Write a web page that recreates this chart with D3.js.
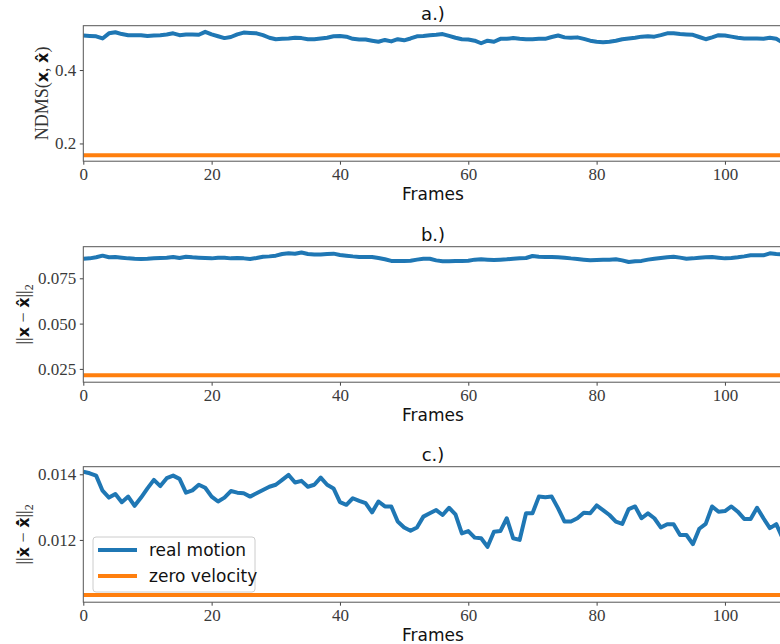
<!DOCTYPE html>
<html>
<head>
<meta charset="utf-8">
<script src="https://cdn.jsdelivr.net/npm/d3@7"></script>
<style>
body { margin: 0; background: #fff; }
.tick text { font-family: "Liberation Serif", serif; font-size: 17px; fill: #3a3a3a; }
.tick line { stroke: #444; }
.lab { font-family: "DejaVu Sans", sans-serif; font-size: 17px; fill: #111; }
</style>
</head>
<body>
<div id="chart"></div>
<script>
// data
const frames = d3.range(110)
const xTicks = [0, 20, 40, 60, 80, 100]

const ndmsReal = [0.494,0.493,0.492,0.486,0.500,0.503,0.498,0.495,0.495,0.495,
  0.493,0.494,0.495,0.497,0.500,0.495,0.497,0.497,0.496,0.504,
  0.497,0.492,0.487,0.490,0.497,0.502,0.501,0.500,0.495,0.488,
  0.484,0.485,0.486,0.488,0.487,0.484,0.484,0.486,0.488,0.492,
  0.493,0.491,0.485,0.483,0.483,0.480,0.477,0.482,0.478,0.484,
  0.481,0.486,0.492,0.493,0.495,0.496,0.498,0.493,0.488,0.484,
  0.483,0.480,0.473,0.480,0.477,0.485,0.485,0.487,0.485,0.484,
  0.484,0.485,0.485,0.490,0.494,0.489,0.488,0.489,0.485,0.480,
  0.477,0.476,0.477,0.480,0.484,0.486,0.488,0.491,0.492,0.491,
  0.495,0.500,0.500,0.498,0.497,0.496,0.490,0.484,0.489,0.495,
  0.494,0.491,0.488,0.486,0.486,0.486,0.485,0.488,0.485,0.475]
const ndmsZero = 0.168
const ndmsTicks = [0.2, 0.4]

const l2Real = [0.0858,0.0860,0.0866,0.0875,0.0866,0.0868,0.0864,0.0860,0.0858,0.0857,
  0.0858,0.0860,0.0862,0.0864,0.0868,0.0862,0.0869,0.0866,0.0864,0.0862,
  0.0860,0.0864,0.0864,0.0860,0.0862,0.0860,0.0857,0.0862,0.0869,0.0871,
  0.0875,0.0884,0.0888,0.0886,0.0892,0.0884,0.0881,0.0882,0.0884,0.0886,
  0.0879,0.0875,0.0871,0.0868,0.0868,0.0868,0.0862,0.0855,0.0846,0.0846,
  0.0846,0.0847,0.0853,0.0858,0.0858,0.0849,0.0844,0.0844,0.0846,0.0846,
  0.0847,0.0853,0.0855,0.0853,0.0851,0.0853,0.0855,0.0858,0.0860,0.0862,
  0.0873,0.0869,0.0868,0.0868,0.0866,0.0864,0.0860,0.0857,0.0853,0.0849,
  0.0851,0.0853,0.0853,0.0855,0.0849,0.0840,0.0844,0.0846,0.0853,0.0858,
  0.0862,0.0866,0.0869,0.0864,0.0858,0.0860,0.0864,0.0866,0.0868,0.0864,
  0.0860,0.0862,0.0866,0.0871,0.0877,0.0877,0.0877,0.0888,0.0884,0.0881]
const l2Zero = 0.0215
const l2Ticks = [0.025, 0.050, 0.075]

const velReal = [0.01408,0.01403,0.01396,0.01350,0.01329,0.01340,0.01315,0.01332,0.01304,0.01329,
  0.01357,0.01383,0.01364,0.01388,0.01396,0.01386,0.01344,0.01351,0.01368,0.01359,
  0.01332,0.01317,0.01329,0.01349,0.01344,0.01342,0.01332,0.01342,0.01352,0.01362,
  0.01368,0.01383,0.01398,0.01375,0.01380,0.01362,0.01368,0.01390,0.01368,0.01357,
  0.01315,0.01307,0.01327,0.01319,0.01312,0.01284,0.01317,0.01302,0.01302,0.01256,
  0.01238,0.01228,0.01238,0.01271,0.01281,0.01291,0.01276,0.01298,0.01278,0.01220,
  0.01227,0.01207,0.01205,0.01179,0.01225,0.01227,0.01266,0.01205,0.01200,0.01281,
  0.01281,0.01332,0.01330,0.01332,0.01296,0.01256,0.01256,0.01266,0.01283,0.01281,
  0.01305,0.01291,0.01276,0.01256,0.01249,0.01294,0.01302,0.01266,0.01281,0.01266,
  0.01238,0.01248,0.01248,0.01215,0.01215,0.01187,0.01234,0.01249,0.01302,0.01286,
  0.01288,0.01302,0.01286,0.01264,0.01264,0.01298,0.01266,0.01236,0.01248,0.01205]
const velZero = 0.01032
const velTicks = [0.012, 0.014]

const seriesNames = ["real motion", "zero velocity"]
const colors = ["#1f77b4", "#ff7f0e"]

// layout
const width = 780
const height = 644
const left = 83.3
const right = 782.7
const panelH = 135.5

const svg = d3.select("#chart")
  .append("svg")
    .attr("width", width)
    .attr("height", height)
    .style("display", "block")

const x = d3.scaleLinear().domain([0, 109]).range([left, right])

const panels = [
  { id: "a", title: "a.)", top: 25.7, domain: [0.1517, 0.5208], real: ndmsReal, zero: ndmsZero, ticks: ndmsTicks, fmt: d3.format(".1f") },
  { id: "b", title: "b.)", top: 246.7, domain: [0.01766, 0.09244], real: l2Real, zero: l2Zero, ticks: l2Ticks, fmt: d3.format(".3f") },
  { id: "c", title: "c.)", top: 466.7, domain: [0.010103, 0.014231], real: velReal, zero: velZero, ticks: velTicks, fmt: d3.format(".3f") }
]

panels.forEach(p => {
  const bottom = p.top + panelH
  const y = d3.scaleLinear().domain(p.domain).range([bottom, p.top])
  const g = svg.append("g").attr("id", "panel-" + p.id)

  g.append("clipPath").attr("id", "clip-" + p.id)
    .append("rect")
      .attr("x", left).attr("y", p.top)
      .attr("width", right - left).attr("height", panelH)

  const xAxisGroup = g.append("g").attr("transform", `translate(0, ${bottom})`)
  xAxisGroup.call(d3.axisBottom(x).tickValues(xTicks).tickSize(3.5).tickPadding(3.5).tickFormat(d3.format("d")))
  xAxisGroup.select(".domain").remove()

  const yAxisGroup = g.append("g").attr("transform", `translate(${left}, 0)`)
  yAxisGroup.call(d3.axisLeft(y).tickValues(p.ticks).tickSize(3.5).tickPadding(3.5).tickFormat(p.fmt))
  yAxisGroup.select(".domain").remove()

  const line = d3.line()
    .x((d, i) => x(frames[i]))
    .y(d => y(d))

  const lines = g.append("g").attr("clip-path", `url(#clip-${p.id})`)
  lines.append("path")
    .datum(p.real)
    .attr("fill", "none")
    .attr("stroke", colors[0])
    .attr("stroke-width", 4)
    .attr("stroke-linejoin", "round")
    .attr("d", line)
  lines.append("path")
    .datum(frames.map(() => p.zero))
    .attr("fill", "none")
    .attr("stroke", colors[1])
    .attr("stroke-width", 4)
    .attr("d", line)

  // spines
  g.append("rect")
    .attr("x", left).attr("y", p.top)
    .attr("width", right - left).attr("height", panelH)
    .attr("fill", "none")
    .attr("stroke", "#555")
    .attr("stroke-width", 1)

  g.append("text")
    .attr("class", "lab")
    .attr("x", (left + right) / 2)
    .attr("y", p.top - 5.5)
    .attr("text-anchor", "middle")
    .style("font-size", "18px")
    .text(p.title)

  g.append("text")
    .attr("class", "lab")
    .attr("x", (left + right) / 2)
    .attr("y", bottom + 38.5)
    .attr("text-anchor", "middle")
    .text("Frames")
})

// y labels
const serif = "Liberation Serif, serif"
const sans = "DejaVu Sans, sans-serif"
function yLabel(xPos, cy, parts) {
  const t = svg.append("text")
    .attr("transform", `translate(${xPos}, ${cy}) rotate(-90)`)
    .attr("text-anchor", "middle")
    .attr("font-size", 18)
    .attr("fill", "#333")
  parts.forEach(([s, kind]) => {
    const ts = t.append("tspan").text(s)
    if (kind === "b") ts.attr("font-family", sans).attr("font-weight", "bold").attr("font-size", 16).attr("fill", "#111")
    else if (kind === "sub") ts.attr("font-family", serif).attr("font-size", 12).attr("dy", 4)
    else ts.attr("font-family", serif)
  })
}
yLabel(48, 25.7 + panelH / 2, [["NDMS(", "s"], ["x", "b"], [", ", "s"], ["x\u0302", "b"], [")", "s"]])
yLabel(29, 246.7 + panelH / 2, [["||", "s"], ["x", "b"], [" \u2212 ", "s"], ["x\u0302", "b"], ["||", "s"], ["2", "sub"]])
yLabel(29, 466.7 + panelH / 2, [["||", "s"], ["x\u0307", "b"], [" \u2212 ", "s"], ["x\u0302\u0307", "b"], ["||", "s"], ["2", "sub"]])

// legend
const legend = svg.append("g").attr("id", "legend")
legend.append("rect")
  .attr("x", 93).attr("y", 537)
  .attr("width", 162).attr("height", 55)
  .attr("rx", 3)
  .attr("fill", "#fff").attr("fill-opacity", 0.8)
  .attr("stroke", "#ccc")
seriesNames.forEach((name, i) => {
  const ly = 550 + i * 26
  legend.append("line")
    .attr("x1", 98).attr("x2", 137)
    .attr("y1", ly).attr("y2", ly)
    .attr("stroke", colors[i])
    .attr("stroke-width", 4)
  legend.append("text")
    .attr("class", "lab")
    .attr("x", 149).attr("y", ly + 6)
    .text(name)
})
</script>
</body>
</html>
